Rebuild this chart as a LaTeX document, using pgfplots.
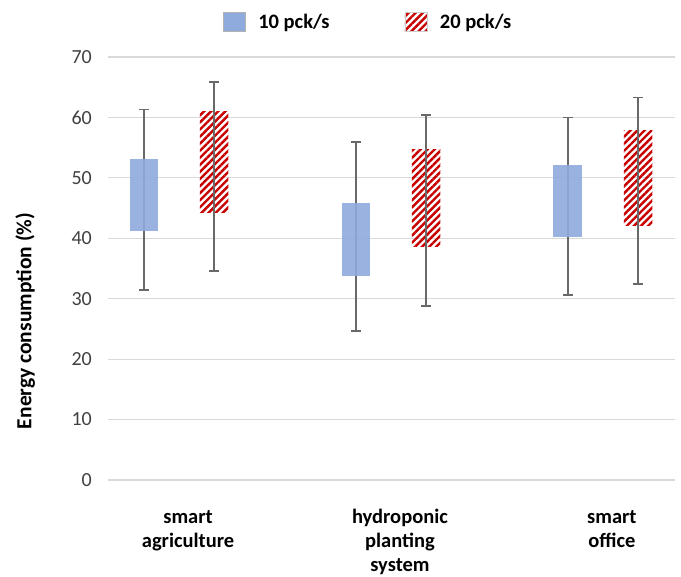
\documentclass[border=0pt]{standalone}
\usepackage{fontspec}
\setmainfont{Carlito}
\usepackage{pgfplots}
\pgfplotsset{compat=1.18}
\usepgfplotslibrary{statistics}
\usetikzlibrary{patterns.meta}
\definecolor{barblue}{RGB}{143,170,220}
\definecolor{hatchred}{RGB}{200,0,0}
\definecolor{whisk}{RGB}{105,105,105}
\definecolor{gridgray}{RGB}{217,217,217}
\definecolor{ticktext}{RGB}{64,64,64}
\tikzset{redhatch/.style={pattern={Lines[angle=45,distance=5pt,line width=2.4pt]}, pattern color=hatchred}}
\pgfplotsset{
  bluebox/.style={forget plot,
    boxplot/every box/.style={fill=barblue, draw=none, fill opacity=0.9},
    boxplot/every whisker/.style={draw=none},
    boxplot/every median/.style={draw=none}},
  redbox/.style={forget plot,
    boxplot/every box/.style={redhatch, draw=none},
    boxplot/every whisker/.style={draw=none},
    boxplot/every median/.style={draw=none}},
  whiskbox/.style={forget plot,
    boxplot/whisker extend=0.047,
    boxplot/every box/.style={draw=none, fill=none},
    boxplot/every whisker/.style={draw=whisk, line width=1.8pt},
    boxplot/every median/.style={draw=none}},
}
\begin{document}
\begin{tikzpicture}
\begin{axis}[
  scale only axis, width=567pt, height=423pt,
  xmin=-0.335, xmax=2.34, ymin=0, ymax=70,
  clip=false,
  axis line style={draw=none},
  major tick length=0pt,
  ytick={0,10,...,70},
  ymajorgrids, grid style={gridgray, line width=1.2pt},
  xtick={0,1,2},
  xticklabels={\strut smart\\agriculture, \strut hydroponic\\planting\\system, \strut smart\\office},
  xticklabel style={font=\fontsize{20.5}{24}\selectfont\bfseries, align=center, anchor=north, inner sep=0pt, yshift=-27pt, xshift=9pt},
  yticklabel style={font=\fontsize{20}{24}\selectfont, text=ticktext, anchor=east, inner sep=0pt, xshift=-16pt},
  /pgf/number format/assume math mode=true,
  ylabel={Energy consumption (\%)},
  ylabel style={font=\fontsize{21.5}{24}\selectfont\bfseries, at={(axis description cs:-0.146,0.376)}, anchor=center},
  legend columns=2,
  legend style={draw=none, fill=none, inner sep=0pt, at={(axis description cs:0.2023,1.0828)}, anchor=west,
    font=\fontsize{20.5}{24}\selectfont\bfseries,
    /tikz/every odd column/.append style={column sep=13pt},
    /tikz/every even column/.append style={column sep=75pt},
    nodes={inner sep=0pt}},
  legend image code/.code={\draw[#1] (0pt,-9.5pt) rectangle (22pt,9.5pt);},
  boxplot/draw direction=y,
]
\addlegendimage{fill=barblue, draw=gray!60}
\addlegendentry{10 pck/s}
\addlegendimage{redhatch, draw=gray!40}
\addlegendentry{20 pck/s}

% whiskers for 10 pck/s (behind bars): from low to high
\addplot[whiskbox, boxplot prepared={lower whisker=31.5, lower quartile=31.5, median=31.5, upper quartile=31.5, upper whisker=61.3, draw position=-0.166, box extend=0.1345}] coordinates {};
\addplot[whiskbox, boxplot prepared={lower whisker=24.7, lower quartile=24.7, median=24.7, upper quartile=24.7, upper whisker=55.9, draw position=0.834, box extend=0.1345}] coordinates {};
\addplot[whiskbox, boxplot prepared={lower whisker=30.6, lower quartile=30.6, median=30.6, upper quartile=30.6, upper whisker=60.0, draw position=1.834, box extend=0.1345}] coordinates {};
% boxes 10 pck/s
\addplot[bluebox, boxplot prepared={lower whisker=41.2, lower quartile=41.2, median=41.2, upper quartile=53.1, upper whisker=53.1, draw position=-0.166, box extend=0.1345}] coordinates {};
\addplot[bluebox, boxplot prepared={lower whisker=33.8, lower quartile=33.8, median=33.8, upper quartile=45.9, upper whisker=45.9, draw position=0.834, box extend=0.1345}] coordinates {};
\addplot[bluebox, boxplot prepared={lower whisker=40.2, lower quartile=40.2, median=40.2, upper quartile=52.1, upper whisker=52.1, draw position=1.834, box extend=0.1345}] coordinates {};
% boxes 20 pck/s
\addplot[redbox, boxplot prepared={lower whisker=44.3, lower quartile=44.3, median=44.3, upper quartile=61.0, upper whisker=61.0, draw position=0.166, box extend=0.1345}] coordinates {};
\addplot[redbox, boxplot prepared={lower whisker=38.7, lower quartile=38.7, median=38.7, upper quartile=54.7, upper whisker=54.7, draw position=1.166, box extend=0.1345}] coordinates {};
\addplot[redbox, boxplot prepared={lower whisker=42.1, lower quartile=42.1, median=42.1, upper quartile=57.9, upper whisker=57.9, draw position=2.166, box extend=0.1345}] coordinates {};
% whiskers for 20 pck/s (on top)
\addplot[whiskbox, boxplot prepared={lower whisker=34.6, lower quartile=34.6, median=34.6, upper quartile=34.6, upper whisker=65.8, draw position=0.166, box extend=0.1345}] coordinates {};
\addplot[whiskbox, boxplot prepared={lower whisker=28.8, lower quartile=28.8, median=28.8, upper quartile=28.8, upper whisker=60.4, draw position=1.166, box extend=0.1345}] coordinates {};
\addplot[whiskbox, boxplot prepared={lower whisker=32.5, lower quartile=32.5, median=32.5, upper quartile=32.5, upper whisker=63.3, draw position=2.166, box extend=0.1345}] coordinates {};
\path (axis description cs:-0.1905,-0.2293) (axis description cs:1.0106,1.1348);
\end{axis}
\end{tikzpicture}
\end{document}
